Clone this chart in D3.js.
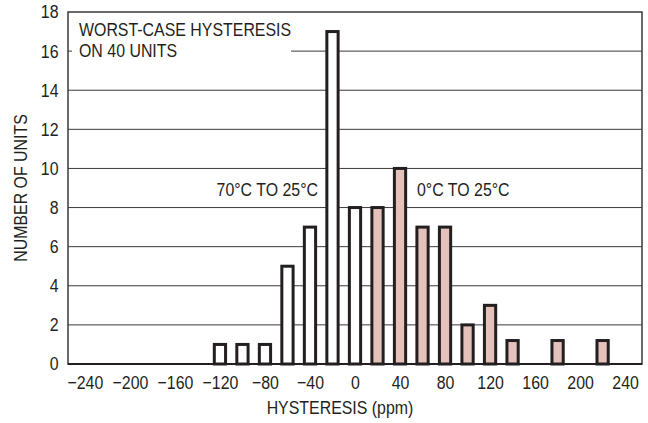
<!DOCTYPE html>
<html>
<head>
<meta charset="utf-8">
<script src="https://cdn.jsdelivr.net/npm/d3@7"></script>
<style>
  body { margin: 0; background: #fff; }
  svg text { font-family: 'Liberation Sans', Arial, sans-serif; fill: #231f20; }
</style>
</head>
<body>
<svg id="chart" width="648" height="423"></svg>
<script>
// 70C to 25C (open bars)
var coldCenters = [-120, -100, -80, -60, -40, -20, 0];
var coldCounts = [1, 1, 1, 5, 7, 17, 8];
// 0C to 25C (shaded bars)
var hotCenters = [20, 40, 60, 80, 100, 120, 140, 180, 220];
var hotCounts = [8, 10, 7, 7, 2, 3, 1.2, 1.2, 1.2];

var xTicks = [-240, -200, -160, -120, -80, -40, 0, 40, 80, 120, 160, 200, 240];
var yTicks = [0, 2, 4, 6, 8, 10, 12, 14, 16, 18];

var svg = d3.select('#chart'),
	margin = { top: 12, right: 6, bottom: 59, left: 68 },
	width = 648 - margin.left - margin.right,
	height = 423 - margin.top - margin.bottom,
	g = svg.append('g').attr('transform', 'translate(' + margin.left + ',' + margin.top + ')');

var ink = '#231f20';
var pink = '#e5c1bb';
var binW = 10;
var fs = 18.5, squeeze = 0.86; // condensed look from a regular face

var scaleX = d3.scaleLinear().domain([-255, 255]).range([0, width]);
var scaleY = d3.scaleLinear().domain([0, 18]).range([height, 0]);

// grid lines
g.append('g').selectAll('line')
	.data(yTicks.filter(function(d) { return d > 0 && d < 18; }))
	.enter().append('line')
	.attr('x1', 0).attr('x2', width)
	.attr('y1', function(d) { return scaleY(d); })
	.attr('y2', function(d) { return scaleY(d); })
	.attr('stroke', '#3a3a3a').attr('stroke-width', 1);

// box around the note so the grid line stops there
g.append('rect')
	.attr('x', 4).attr('y', 4)
	.attr('width', 219).attr('height', 50)
	.attr('fill', '#fff');

// frame
g.append('rect')
	.attr('x', 0).attr('y', 0)
	.attr('width', width).attr('height', height)
	.attr('fill', 'none').attr('stroke', '#3a3a3a').attr('stroke-width', 1.5);

function drawBars(centers, counts, fill) {
	var rows = centers.map(function(c, i) { return { c: c, n: counts[i] }; });
	g.append('g').selectAll('rect')
		.data(rows)
		.enter().append('rect')
		.attr('x', function(d) { return scaleX(d.c - binW / 2); })
		.attr('y', function(d) { return scaleY(d.n); })
		.attr('width', function(d) { return scaleX(d.c + binW / 2) - scaleX(d.c - binW / 2); })
		.attr('height', function(d) { return scaleY(0) - scaleY(d.n); })
		.attr('fill', fill)
		.attr('stroke', ink).attr('stroke-width', 3);
}
drawBars(coldCenters, coldCounts, '#fff');
drawBars(hotCenters, hotCounts, pink);

// base line
g.append('line')
	.attr('x1', 0).attr('x2', width)
	.attr('y1', height).attr('y2', height)
	.attr('stroke', ink).attr('stroke-width', 2);

// axes (labels only)
var xAxis = d3.axisBottom(scaleX).tickValues(xTicks).tickSize(0).tickPadding(12)
	.tickFormat(function(d) { return d < 0 ? '\u2212' + Math.abs(d) : d; });
var gx = g.append('g').attr('transform', 'translate(0,' + height + ')').call(xAxis);
gx.select('.domain').remove();
gx.selectAll('text').attr('font-size', fs).attr('transform', 'scale(' + squeeze + ',1)');

var yAxis = d3.axisLeft(scaleY).tickValues(yTicks).tickSize(0);
var gy = g.append('g').call(yAxis);
gy.select('.domain').remove();
gy.selectAll('text').attr('font-size', fs)
	.attr('x', -9.5 / squeeze)
	.attr('transform', 'scale(' + squeeze + ',1)');
svg.selectAll('.tick text').attr('fill', ink);
gx.attr('font-family', null).attr('font-size', null);
gy.attr('font-family', null).attr('font-size', null);

function label(x, y, str, anchor, rot) {
	return svg.append('text')
		.attr('transform', 'translate(' + x + ',' + y + ')' + (rot ? ' rotate(' + rot + ')' : '') + ' scale(' + squeeze + ',1)')
		.attr('text-anchor', anchor || 'start')
		.attr('font-size', fs)
		.text(str);
}

// axis titles
label(27, margin.top + height / 2, 'NUMBER OF UNITS', 'middle', -90);
label(340, 414, 'HYSTERESIS (ppm)', 'middle');

// notes
label(79, 36, 'WORST-CASE HYSTERESIS');
label(79, 57, 'ON 40 UNITS');
label(318, 196, '70\u00b0C TO 25\u00b0C', 'end');
label(417, 196, '0\u00b0C TO 25\u00b0C');
</script>
</body>
</html>
